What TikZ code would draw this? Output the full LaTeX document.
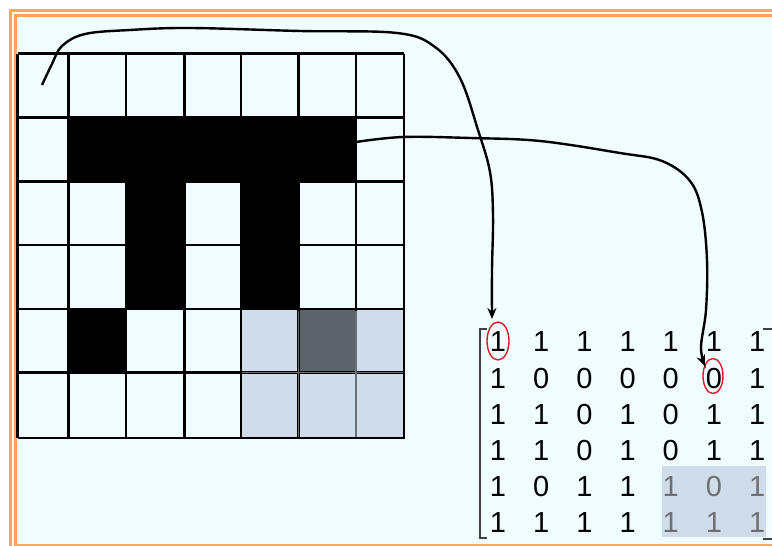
\documentclass[tikz,border=0pt]{standalone}
\usepackage{fontspec}
\newfontfamily\arialf{Liberation Sans}
\usetikzlibrary{shapes.geometric,arrows.meta}
\definecolor{bgcyan}{RGB}{240,252,255}
\definecolor{frameorange}{RGB}{250,168,92}
\definecolor{hlblue}{RGB}{208,220,233}
\definecolor{darkcell}{RGB}{92,99,107}
\definecolor{graydigit}{RGB}{110,112,115}
\definecolor{gridgray}{RGB}{105,112,120}
\definecolor{ringred}{RGB}{215,30,35}
\begin{document}
\begin{tikzpicture}[x=1pt,y=-1pt,
  digit/.style={font=\arialf\fontsize{29}{31}\selectfont, inner sep=0pt},
  ring/.style={ellipse, draw=ringred, line width=1.4pt, inner sep=0pt},
  conn/.style={line width=2.4pt, -{Stealth[length=11pt,width=9pt]}},
  gridline/.style={line width=2.3pt},
  framestyle/.style={draw=frameorange, line width=2.8pt},
  bracket/.style={line width=1.6pt, draw=black!75},
]
\useasboundingbox (0,0) rectangle (772,546);
\clip (0,0) rectangle (772,546);
\fill[white] (0,0) rectangle (772,546);
% frame
\path[framestyle] (10.5,10.5) rectangle (800,560);
\fill[bgcyan] (16,16) rectangle (790,544);
\path[framestyle] (15.5,15.5) rectangle (790,545);
% grid fills
\fill[black] (68.5,117.5) rectangle (356,181.5);
\fill[black] (126,181.5) rectangle (184.5,309);
\fill[black] (241,181.5) rectangle (298.5,309);
\fill[black] (68.5,309) rectangle (126,372.5);
\fill[hlblue] (241,309) rectangle (404,438);
\fill[darkcell] (298.5,309) rectangle (356,372.5);
% grid lines
\foreach \x in {17.5,68.5,126,184.5,241,298.5,356,404}
  \draw[gridline] (\x,53.5) -- (\x,438);
\foreach \y in {53.5,117.5,181.5,245,309,372.5,438}
  \draw[gridline] (17.5,\y) -- (404,\y);
\draw[gridline, draw=gridgray, line width=1.8pt] (298.5,310.5) -- (298.5,437)
  (356,310.5) -- (356,437) (242,372.5) -- (403,372.5);
\draw[gridline] (241,309) -- (404,309) -- (404,438) -- (241,438) -- cycle;
% matrix
\fill[hlblue] (662,466) rectangle (766,537);
\foreach \vals [count=\r] in {{1,1,1,1,1,1,1},{1,0,0,0,0,0,1},{1,1,0,1,0,1,1},{1,1,0,1,0,1,1},{1,0,1,1,1,0,1},{1,1,1,1,1,1,1}}{
  \foreach \v [count=\c] in \vals {
    \pgfmathsetmacro{\xx}{498+43.2*(\c-1)}
    \pgfmathsetmacro{\yy}{342+36.2*(\r-1)}
    \pgfmathtruncatemacro{\hl}{and(\r>4,\c>4)}
    \ifnum\hl=1 \def\dcol{graydigit}\else\def\dcol{black}\fi
    \node[digit, text=\dcol] (m-\r-\c) at (\xx,\yy) {\v};
  }
}
\draw[bracket] (487,329) -- (480,329) -- (480,538) -- (487,538);
\draw[bracket] (763,329) -- (776,329) -- (776,539) -- (763,539);
% rings
\node[ring, minimum width=22pt, minimum height=38pt] (e1) at (498,341) {};
\node[ring, minimum width=20pt, minimum height=35pt] (e2) at (713,376) {};
% connectors
\coordinate (s1) at (42,85);
\coordinate (t1) at (492,319);
\coordinate (s2) at (356,142);
\coordinate (t2) at (705,366);
\draw[conn] plot[smooth, tension=0.6] coordinates {(s1) (52,64) (62,46) (85,34) (130,30) (190,28) (300,31) (397,33) (435,47) (460,78) (478,130) (490,172) (493,215) (492,270) (t1)};
\draw[conn] plot[smooth, tension=0.6] coordinates {(s2) (403,137) (470,138) (540,141) (620,153) (662,161) (690,181) (702,212) (707,260) (706,310) (701,347) (t2)};
\end{tikzpicture}
\end{document}
